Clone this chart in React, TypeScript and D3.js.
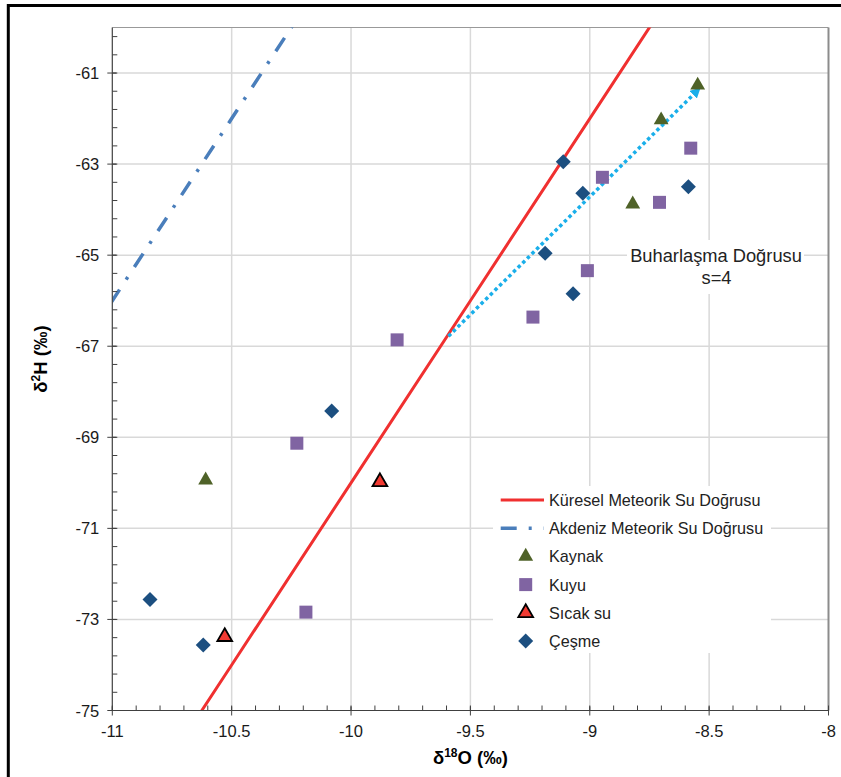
import React from "react";
import * as d3 from "d3";

// ---------- data ----------
const kaynakX = [-8.548, -8.701, -8.820, -10.609];
const kaynakY = [-61.27, -62.03, -63.88, -69.94];

const kuyuX = [-8.577, -8.947, -8.708, -9.010, -9.238, -9.807, -10.227, -10.189];
const kuyuY = [-62.65, -63.29, -63.84, -65.34, -66.36, -66.86, -69.13, -72.84];

const sicakX = [-9.879, -10.529];
const sicakY = [-69.98, -73.38];

const cesmeX = [-9.111, -9.029, -8.587, -9.187, -9.070, -10.081, -10.842, -10.619];
const cesmeY = [-62.95, -63.64, -63.50, -64.96, -65.85, -68.42, -72.56, -73.56];

// meteoric water lines: δ2H = slope * δ18O + intercept
const gmwl = [8, 10];
const mmwl = [8, 22];

// evaporation line endpoints
const evapX = [-9.592, -8.548];
const evapY = [-66.78, -61.38];

const xTicks = [-11, -10.5, -10, -9.5, -9, -8.5, -8];
const yTicks = [-75, -73, -71, -69, -67, -65, -63, -61];
const xDomain = [-11, -8];
const yDomain = [-75, -60];

const legendLabels = [
  "Küresel Meteorik Su Doğrusu",
  "Akdeniz Meteorik Su Doğrusu",
  "Kaynak",
  "Kuyu",
  "Sıcak su",
  "Çeşme",
];

// ---------- styles ----------
const FONT = "'Liberation Sans', Arial, Helvetica, sans-serif";
const C_RED = "#F03030";
const C_MMWL = "#4A7EBB";
const C_KAYNAK = "#4F6228";
const C_KUYU = "#8064A2";
const C_SICAK = "#F23A32";
const C_CESME = "#1C4F80";
const C_EVAP = "#1AAFEA";
const C_GRID = "#D9D9D9";

export default function App() {
  const W = 841;
  const H = 777;
  const L = 112.3,
    R = 828.5,
    T = 27.5,
    B = 710.5;

  const x = d3.scaleLinear().domain(xDomain).range([L, R]);
  const y = d3.scaleLinear().domain(yDomain).range([B, T]);

  const line = d3
    .line<[number, number]>()
    .x((d) => x(d[0]))
    .y((d) => y(d[1]));

  const mwlPts = (p: number[]): [number, number][] => {
    const xs = d3.range(xDomain[0] - 0.5, xDomain[1] + 0.51, 0.5);
    return xs.map((v) => [v, p[0] * v + p[1]] as [number, number]);
  };

  const xMinor = d3.range(-11, -7.99, 0.1).map((v) => +v.toFixed(2));
  const yMinor = d3.range(-75, -59.99, 0.4).map((v) => +v.toFixed(2));

  const tri = d3.symbol().type(d3.symbolTriangle).size(95)() as string;
  const sq = (s: number) => `M${-s / 2},${-s / 2}h${s}v${s}h${-s}Z`;
  const dia = (s: number) => `M0,${-s}L${s},0L0,${s}L${-s},0Z`;

  const kaynak = kaynakX.map((v, i) => [v, kaynakY[i]]);
  const kuyu = kuyuX.map((v, i) => [v, kuyuY[i]]);
  const sicak = sicakX.map((v, i) => [v, sicakY[i]]);
  const cesme = cesmeX.map((v, i) => [v, cesmeY[i]]);
  const evap = evapX.map((v, i) => [v, evapY[i]] as [number, number]);

  const legX = 500.7;
  const legY0 = 500;
  const legDy = 28.2;

  return (
    <svg
      width={W}
      height={H}
      style={{ position: "absolute", left: 0, top: 0, background: "#fff" }}
      fontFamily={FONT}
    >
      <defs>
        <clipPath id="plotclip">
          <rect x={L} y={T} width={R - L} height={B - T} />
        </clipPath>
        <marker
          id="evapArrow"
          viewBox="0 0 10 10"
          refX="6"
          refY="5"
          markerWidth="3"
          markerHeight="3"
          orient="auto"
        >
          <path d="M0,0L10,5L0,10Z" fill={C_EVAP} />
        </marker>
      </defs>
      <rect x={0} y={0} width={W} height={H} fill="#fff" />
      {/* outer frame */}
      <rect x={8.3} y={5.5} width={860} height={820} fill="none" stroke="#000" strokeWidth={3} />

      {/* grid */}
      <g>
        {xTicks
          .filter((t) => t !== xDomain[0] && t !== xDomain[1])
          .map((t) => (
            <line key={"gx" + t} x1={x(t)} x2={x(t)} y1={T} y2={B} stroke={C_GRID} strokeWidth={1.5} />
          ))}
        {yTicks
          .filter((t) => t !== yDomain[0])
          .map((t) => (
            <line key={"gy" + t} x1={L} x2={R} y1={y(t)} y2={y(t)} stroke={C_GRID} strokeWidth={1.5} />
          ))}
      </g>

      {/* annotation background */}
      <rect x={627} y={240} width={177} height={54} fill="#fff" />

      {/* legend background */}
      <rect x={493} y={486} width={278} height={167} fill="#fff" />

      {/* plot border */}
      <line x1={L} x2={R} y1={T} y2={T} stroke="#999" strokeWidth={1.2} />
      <line x1={R} x2={R} y1={T} y2={B} stroke="#8C8C8C" strokeWidth={2} />

      {/* lines */}
      <g clipPath="url(#plotclip)">
        <path d={line(mwlPts(gmwl)) as string} fill="none" stroke={C_RED} strokeWidth={3} />
        <path
          d={line(mwlPts(mmwl)) as string}
          fill="none"
          stroke={C_MMWL}
          strokeWidth={3.5}
          strokeDasharray="16 12 3 12"
        />
      </g>
      <path
        d={line(evap) as string}
        fill="none"
        stroke={C_EVAP}
        strokeWidth={3.5}
        strokeDasharray="3.5 3"
        markerEnd="url(#evapArrow)"
      />

      {/* points */}
      <g>
        {kaynak.map((d, i) => (
          <path key={"ka" + i} d={tri} transform={`translate(${x(d[0])},${y(d[1])})`} fill={C_KAYNAK} />
        ))}
        {kuyu.map((d, i) => (
          <path key={"ku" + i} d={sq(13)} transform={`translate(${x(d[0])},${y(d[1])})`} fill={C_KUYU} />
        ))}
        {cesme.map((d, i) => (
          <path key={"ce" + i} d={dia(7.5)} transform={`translate(${x(d[0])},${y(d[1])})`} fill={C_CESME} />
        ))}
        {sicak.map((d, i) => (
          <path
            key={"si" + i}
            d={tri}
            transform={`translate(${x(d[0])},${y(d[1])})`}
            fill={C_SICAK}
            stroke="#000"
            strokeWidth={1.8}
            strokeLinejoin="miter"
          />
        ))}
      </g>

      {/* axes */}
      <g>
        <line x1={L} x2={L} y1={T} y2={B} stroke="#404040" strokeWidth={1.2} />
        <line x1={L} x2={R} y1={B} y2={B} stroke="#404040" strokeWidth={1.2} />
        {xMinor.map((t) => (
          <line key={"xm" + t} x1={x(t)} x2={x(t)} y1={B} y2={B - 5} stroke="#404040" strokeWidth={1} />
        ))}
        {xTicks.map((t) => (
          <line key={"xt" + t} x1={x(t)} x2={x(t)} y1={B - 4} y2={B + 5} stroke="#404040" strokeWidth={1} />
        ))}
        {yMinor.map((t) => (
          <line key={"ym" + t} x1={L} x2={L + 5} y1={y(t)} y2={y(t)} stroke="#404040" strokeWidth={1} />
        ))}
        {yTicks.map((t) => (
          <line key={"yt" + t} x1={L - 5} x2={L + 4} y1={y(t)} y2={y(t)} stroke="#404040" strokeWidth={1} />
        ))}
        {xTicks.map((t) => (
          <text key={"xl" + t} x={x(t)} y={B + 26} fontSize={16.5} textAnchor="middle" fill="#1a1a1a">
            {String(t)}
          </text>
        ))}
        {yTicks.map((t) => (
          <text key={"yl" + t} x={L - 13} y={y(t) + 6} fontSize={16.5} textAnchor="end" fill="#1a1a1a">
            {String(t)}
          </text>
        ))}
      </g>

      {/* axis titles */}
      <text x={(L + R) / 2} y={764} fontSize={18.5} fontWeight="bold" textAnchor="middle" fill="#000">
        δ<tspan fontSize={12} dy={-7}>18</tspan>
        <tspan dy={7}>O (‰)</tspan>
      </text>
      <text
        transform={`translate(47,359) rotate(-90)`}
        fontSize={18.5}
        fontWeight="bold"
        textAnchor="middle"
        fill="#000"
      >
        δ<tspan fontSize={12} dy={-7}>2</tspan>
        <tspan dy={7}>H (‰)</tspan>
      </text>

      {/* annotation */}
      <text x={716} y={261.5} fontSize={18.3} textAnchor="middle" fill="#222">
        Buharlaşma Doğrusu
      </text>
      <text x={716.5} y={283.5} fontSize={18.3} textAnchor="middle" fill="#222">
        s=4
      </text>

      {/* legend */}
      <g>
        <line x1={legX} x2={legX + 43.3} y1={legY0} y2={legY0} stroke={C_RED} strokeWidth={3} />
        <line
          x1={legX}
          x2={legX + 43.3}
          y1={legY0 + legDy}
          y2={legY0 + legDy}
          stroke={C_MMWL}
          strokeWidth={3.5}
          strokeDasharray="16 12 3 12"
        />
        <path d={tri} transform={`translate(${legX + 25},${legY0 + legDy * 2})`} fill={C_KAYNAK} />
        <path d={sq(13)} transform={`translate(${legX + 25},${legY0 + legDy * 3})`} fill={C_KUYU} />
        <path
          d={tri}
          transform={`translate(${legX + 25},${legY0 + legDy * 4})`}
          fill={C_SICAK}
          stroke="#000"
          strokeWidth={1.8}
        />
        <path d={dia(7.5)} transform={`translate(${legX + 25},${legY0 + legDy * 5})`} fill={C_CESME} />
        {legendLabels.map((lab, i) => (
          <text key={lab} x={549} y={legY0 + legDy * i + 6} fontSize={16.2} fill="#222">
            {lab}
          </text>
        ))}
      </g>
    </svg>
  );
}
